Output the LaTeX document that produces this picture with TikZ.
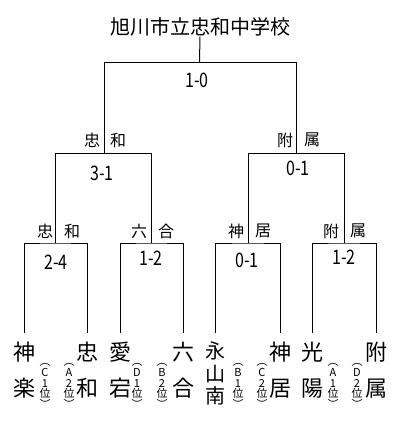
\documentclass[tikz,border=0pt]{standalone}
\usepackage{fontspec}
\setmainfont{Noto Sans CJK JP}
\newfontfamily\narrowfont{Noto Sans CJK JP}[FakeStretch=0.8]
\usetikzlibrary{positioning}
\tikzset{
  bracket/.style={draw=black,line width=1pt},
  team/.style={anchor=north,inner sep=0pt,outer ysep=9pt,align=center,
               font=\fontsize{22}{36}\selectfont},
  teamlong/.style={team,font=\fontsize{20}{22.5}\selectfont},
  seed/.style={inner sep=0pt,align=center,font=\fontsize{11}{10.8}\selectfont},
  score/.style={inner sep=0pt,font=\narrowfont\fontsize{20}{20}\selectfont},
  winner/.style={inner sep=0pt,font=\fontsize{16}{16}\selectfont},
}
\begin{document}
\begin{tikzpicture}[x=1pt,y=-1pt]
  \useasboundingbox (0,0) rectangle (410,439);
  % Champion
  \node[inner sep=0pt,font=\fontsize{20}{20}\selectfont] (champ) at (200,27)
    {旭川市立忠和中学校};
  % Teams
  \node[team] (t1) at (24,333)  {神\\楽};
  \node[team] (t2) at (87,333)  {忠\\和};
  \node[team] (t3) at (120,333) {愛\\宕};
  \node[team] (t4) at (183,333) {六\\合};
  \node[teamlong] (t5) at (215,333) {永\\山\\南};
  \node[team] (t6) at (280,333) {神\\居};
  \node[team] (t7) at (312,333) {光\\陽};
  \node[team] (t8) at (376,333) {附\\属};
  % Seeds
  \foreach \x/\s [count=\i] in {45/{C\\1},69/{A\\2},137/{D\\1},162/{B\\2},
                                238/{B\\1},262/{C\\2},333/{A\\1},357/{D\\2}}{
    \node[seed] (seed\i) at (\x,386) {︵\\\s\\位\\︶};
  }
  % Match points
  \coordinate (m1) at (55,243);
  \coordinate (m2) at (151,243);
  \coordinate (m3) at (248,243);
  \coordinate (m4) at (344,243);
  \coordinate (s1) at (104,153);
  \coordinate (s2) at (296,153);
  \coordinate (f) at (199.5,62);
  % First round
  \draw[bracket] (t1.north) |- (m1) -| (t2.north);
  \draw[bracket] (t3.north) |- (m2) -| (t4.north);
  \draw[bracket] (t5.north) |- (m3) -| (t6.north);
  \draw[bracket] (t7.north) |- (m4) -| (t8.north);
  \draw[bracket] (m1) -- (m1|-s1);
  \draw[bracket] (m2) -- (m2|-s1);
  \draw[bracket] (m3) -- (m3|-s2);
  \draw[bracket] (m4) -- (m4|-s2);
  % Semi-finals
  \draw[bracket] (m1|-s1) -- (m2|-s1);
  \draw[bracket] (m3|-s2) -- (m4|-s2);
  \draw[bracket] (s1) -- (s1|-f);
  \draw[bracket] (s2) -- (s2|-f);
  % Final
  \draw[bracket] (s1|-f) -- (s2|-f);
  \draw[bracket] (f) -- (champ.south);
  % Scores
  \node[score] (r1) at (56,262)  {2-4};
  \node[score] (r2) at (151,258) {1-2};
  \node[score] (r3) at (247,260) {0-1};
  \node[score] (r4) at (344,257) {1-2};
  \node[score] (r5) at (102,173) {3-1};
  \node[score] (r6) at (298,168) {0-1};
  \node[score] (r7) at (197,80)  {1-0};
  % Winners
  \node[winner] (w1a) at (45,231)  {忠};
  \node[winner] (w1b) at (72,231)  {和};
  \node[winner] (w2a) at (139,231) {六};
  \node[winner] (w2b) at (166,231) {合};
  \node[winner] (w3a) at (236,231) {神};
  \node[winner] (w3b) at (263,231) {居};
  \node[winner] (w4a) at (331,231) {附};
  \node[winner] (w4b) at (358,231) {属};
  \node[winner] (w5a) at (92,140)  {忠};
  \node[winner] (w5b) at (118,140) {和};
  \node[winner] (w6a) at (285,140) {附};
  \node[winner] (w6b) at (312,140) {属};
\end{tikzpicture}
\end{document}
